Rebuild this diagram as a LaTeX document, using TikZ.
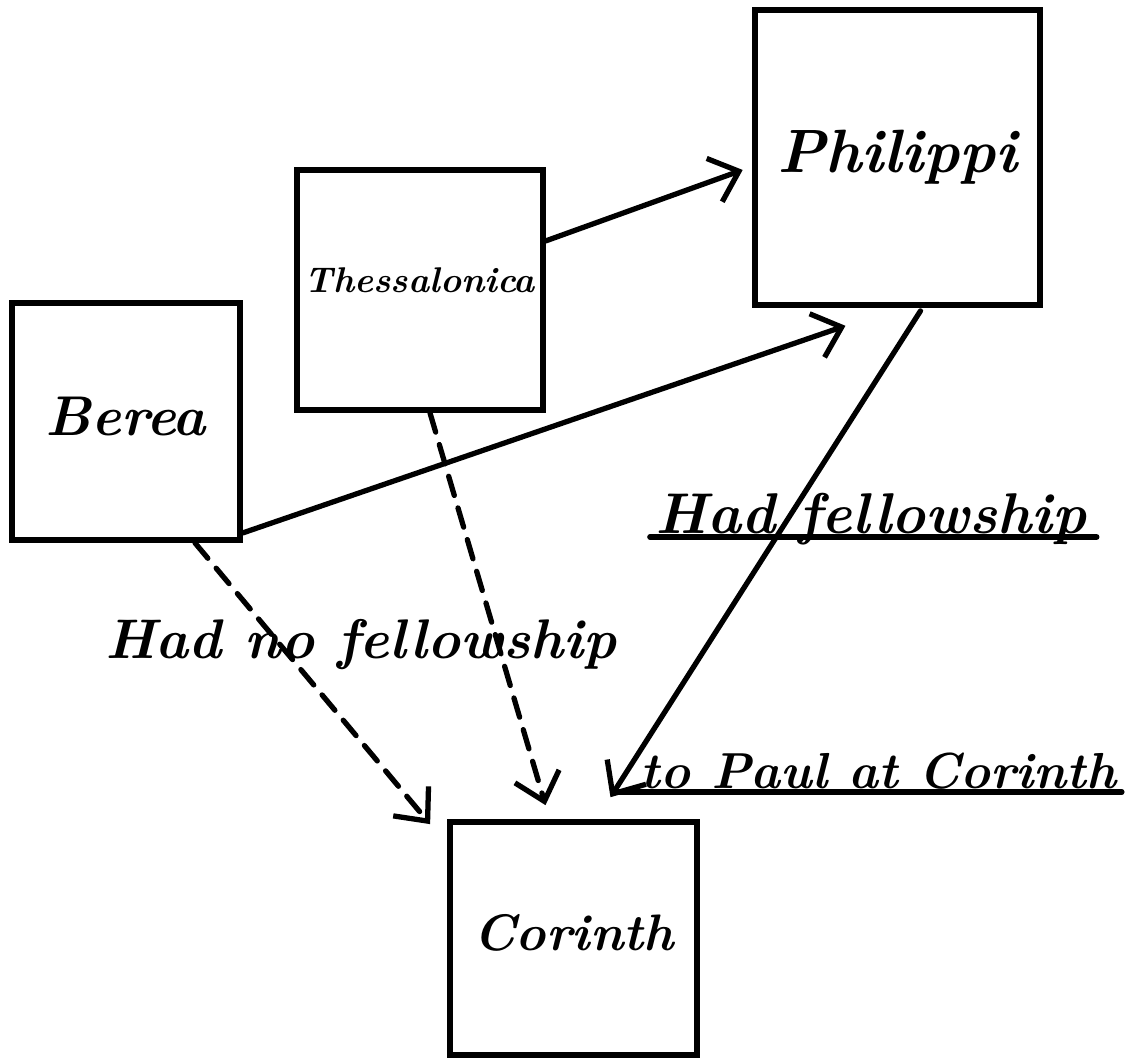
\documentclass[tikz,border=0pt]{standalone}
\usetikzlibrary{arrows.meta,calc}
\newcommand{\hand}{\bfseries\itshape}
\begin{document}
\begin{tikzpicture}[x=0.01cm,y=-0.01cm,
  place/.style={draw, line width=1.6pt, inner sep=0pt},
  lbl/.style={inner sep=0pt, anchor=base west},
  arr/.style={line width=1.5pt, line cap=round, -{Straight Barb[length=2.6mm,width=4.6mm]}},
  darr/.style={arr, dash pattern=on 0.2cm off 0.13cm},
  ul/.style={line width=1.6pt, line cap=round}]
\useasboundingbox (0,0) rectangle (1144,1059);
% places
\node[place, minimum width=2.28cm, minimum height=2.37cm] (berea) at (126,421.5)
  {\raisebox{0.1cm}{\resizebox{1.6cm}{!}{\hand Berea}}};
\node[place, minimum width=2.46cm, minimum height=2.40cm] (thess) at (420,290)
  {\raisebox{0.2cm}{\resizebox{2.3cm}{!}{\hand Thessalonica}}};
\node[place, minimum width=2.85cm, minimum height=2.95cm] (phil) at (897.5,157.5)
  {\resizebox{2.4cm}{!}{\hand Philippi}};
\node[place, minimum width=2.47cm, minimum height=2.33cm] (cor) at (573.5,938.5)
  {\raisebox{0.12cm}{\resizebox{2.0cm}{!}{\hand Corinth}}};
% connectors
\draw[arr, shorten >=0.1cm] ($(thess.north east)!0.3!(thess.south east)$) -- ($(phil.north west)!0.53!(phil.south west)$);
\draw[arr, shorten >=0.55cm] ($(berea.south east)+(0,-10)$) -- (phil.south);
\draw[arr, shorten >=0.26cm] ($(phil.south)+(23,3)$) -- ($(cor.north)+(23,0)$);
\draw[darr] ($(berea.south)+(69,0)$) -- ($(cor.north west)+(-17,5)$);
\draw[darr] ($(thess.south)+(10,0)$) -- ($(cor.north)+(-28,-14)$);
% labels
\node[lbl] (hf) at (655,533) {\resizebox{4.3cm}{!}{\hand Had fellowship}};
\draw[ul] ($(hf.base west)+(-5,4)$) -- ($(hf.base east)+(10,4)$);
\node[lbl] (hnf) at (105,658) {\resizebox{5.1cm}{!}{\hand Had no fellowship}};
\node[lbl] (tp) at (640,788) {\resizebox{4.75cm}{!}{\hand to Paul at Corinth}};
\draw[ul] ($(tp.base west)+(-25,4)$) -- ($(tp.base east)+(5,4)$);
\end{tikzpicture}
\end{document}
